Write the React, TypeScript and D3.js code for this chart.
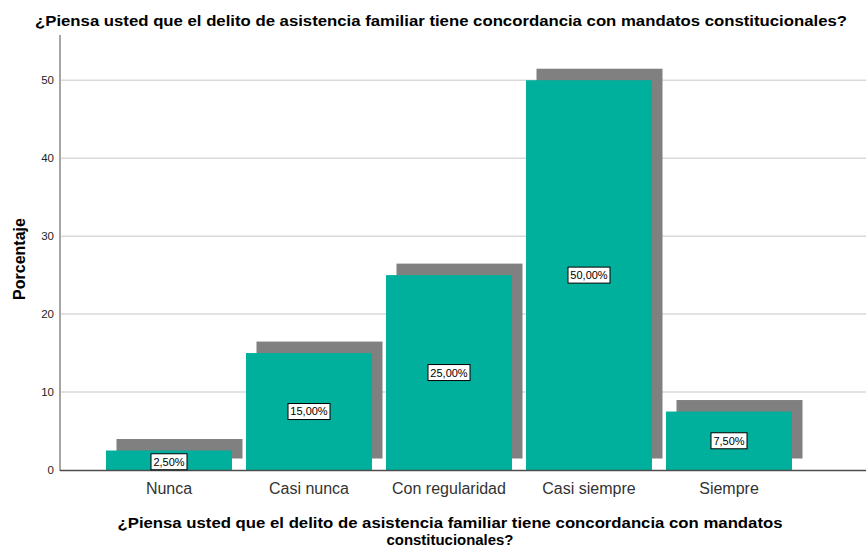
import React from "react";
import * as d3 from "d3";

const categories = ["Nunca", "Casi nunca", "Con regularidad", "Casi siempre", "Siempre"];
const values = [2.5, 15, 25, 50, 7.5];
const labels = ["2,50%", "15,00%", "25,00%", "50,00%", "7,50%"];
const yTicks = [0, 10, 20, 30, 40, 50];

const W = 866;
const H = 551;
const FONT = "'Liberation Sans', Arial, Helvetica, sans-serif";

export default function App() {
  const x = d3.scaleBand<string>().domain(categories).range([99, 799]).paddingInner(0.1).paddingOuter(0.05);
  const y = d3.scaleLinear().domain([0, 55.8]).range([470, 35]);
  const left = 60;
  const right = 866;
  const dx = 10.5;
  const dy = -11.5;
  const labelW = (s: string) => (s.length <= 5 ? 36 : 42);

  return (
    <svg width={W} height={H} style={{ position: "absolute", left: 0, top: 0, display: "block", background: "#fff" }} fontFamily={FONT}>
      <text x={441} y={26} textAnchor="middle" fontSize={15.5} fontWeight="bold" fill="#000" textLength={812} lengthAdjust="spacingAndGlyphs">
        ¿Piensa usted que el delito de asistencia familiar tiene concordancia con mandatos constitucionales?
      </text>
      {yTicks.map((t) => (
        <g key={t}>
          {t > 0 && <line x1={left} x2={right} y1={y(t)} y2={y(t)} stroke="#d9d9d9" strokeWidth={1.5} />}
          <text x={54} y={y(t)} dy="0.35em" textAnchor="end" fontSize={11.5} fill="#222">{t}</text>
        </g>
      ))}
      {categories.map((c, i) => {
        const x0 = x(c)!;
        const bw = x.bandwidth();
        const yt = y(values[i]);
        const hgt = y(0) - yt;
        return (
          <g key={"s" + c}>
            <rect x={x0 + dx} y={yt + dy} width={bw} height={hgt} fill="#808080" />
            <rect x={x0} y={yt} width={bw} height={hgt} fill="#00b09c" />
          </g>
        );
      })}
      <line x1={left} x2={left} y1={35} y2={471} stroke="#a6a6a6" strokeWidth={2} />
      <line x1={left} x2={right} y1={470.5} y2={470.5} stroke="#4d4d4d" strokeWidth={1.5} />
      {categories.map((c, i) => {
        const cx = x(c)! + x.bandwidth() / 2;
        const cy = (y(values[i]) + y(0)) / 2 + (i === 0 ? 1.5 : 0);
        const lw = labelW(labels[i]);
        return (
          <g key={"l" + c}>
            <rect x={cx - lw / 2} y={cy - 8} width={lw} height={16} fill="#fff" stroke="#000" strokeWidth={1} />
            <text x={cx} y={cy} dy="0.36em" textAnchor="middle" fontSize={11} fill="#000">{labels[i]}</text>
            <text x={cx} y={494} textAnchor="middle" fontSize={16} fill="#333">{c}</text>
          </g>
        );
      })}
      <text transform={`translate(25,259) rotate(-90)`} textAnchor="middle" fontSize={16} fontWeight="bold" fill="#000">Porcentaje</text>
      <text x={450} y={528} textAnchor="middle" fontSize={15.5} fontWeight="bold" fill="#000" textLength={665} lengthAdjust="spacingAndGlyphs">
        ¿Piensa usted que el delito de asistencia familiar tiene concordancia con mandatos
      </text>
      <text x={450} y={545} textAnchor="middle" fontSize={15.5} fontWeight="bold" fill="#000" textLength={127} lengthAdjust="spacingAndGlyphs">constitucionales?</text>
    </svg>
  );
}
